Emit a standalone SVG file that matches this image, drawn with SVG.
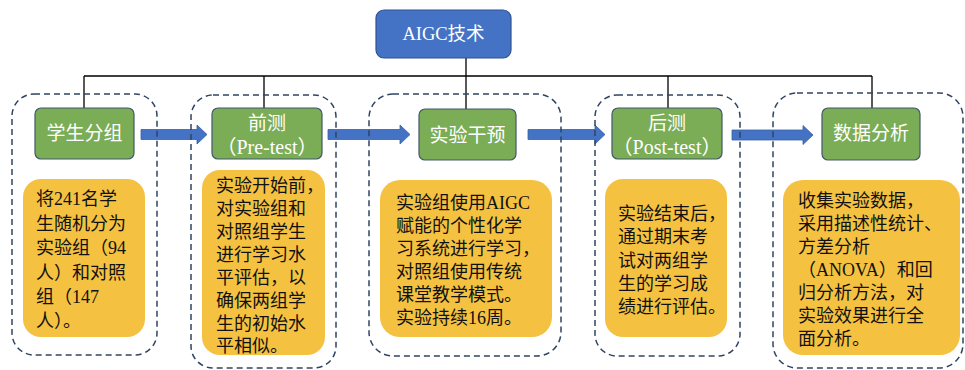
<svg xmlns="http://www.w3.org/2000/svg" width="965" height="370" viewBox="0 0 965 370">
<style>
.grp{fill:none;stroke:#2f4463;stroke-width:1.5;stroke-dasharray:6 4}
.green{fill:#7aad55;stroke:#43586b;stroke-width:1.2}
.orange{fill:#f5c141}
.gt{font-family:"Liberation Serif","Noto Sans CJK SC",serif;font-size:19px;fill:#ffffff;text-anchor:middle}
.lt{font-size:20px}
.bt{font-family:"Liberation Serif","Noto Sans CJK SC",serif;font-size:18px;fill:#111111}
.arrow{fill:#4472c4;stroke:#3a5f9f;stroke-width:0.8}
.line{stroke:#000;stroke-width:1.3;fill:none}
</style>
<rect width="965" height="370" fill="#ffffff"/>
<g id="connectors">
<path class="line" d="M84 76 H872 M84 76 V108 M264 76 V108 M466 58 V109 M668 76 V108 M872 76 V108"/>
<polygon class="arrow" points="141,129.5 197,129.5 197,125 207,134.5 197,144 197,139.5 141,139.5"/>
<polygon class="arrow" points="328,129.5 400,129.5 400,125 410,134.5 400,144 400,139.5 328,139.5"/>
<polygon class="arrow" points="528,129.5 595,129.5 595,125 605,134.5 595,144 595,139.5 528,139.5"/>
<polygon class="arrow" points="732,130 803,130 803,125.5 813,135 803,144.5 803,140 732,140"/>
</g>
<g id="aigc">
<rect x="376" y="10" width="135" height="48" rx="8" fill="#4472c4" stroke="#2f528f" stroke-width="1.2"/>
<text class="gt" x="443.5" y="40" style="font-size:18.5px">AIGC技术</text>
</g>
<g id="group1">
<rect class="grp" x="12" y="94" width="145" height="261" rx="22"/>
<rect class="green" x="35" y="108" width="99" height="51" rx="6"/>
<text class="gt" x="84.5" y="140">学生分组</text>
<rect class="orange" x="23" y="179" width="122" height="158" rx="18"/>
<text class="bt" x="36" y="205">将241名学</text>
<text class="bt" x="36" y="229.5">生随机分为</text>
<text class="bt" x="36" y="254">实验组（94</text>
<text class="bt" x="36" y="278.5">人）和对照</text>
<text class="bt" x="36" y="303">组（147</text>
<text class="bt" x="36" y="327">人）。</text>
</g>
<g id="group2">
<rect class="grp" x="191" y="95" width="145" height="273" rx="22"/>
<rect class="green" x="212" y="108" width="110" height="51" rx="6"/>
<text class="gt" x="267" y="130">前测</text>
<text class="gt lt" x="267" y="154">（Pre-test）</text>
<rect class="orange" x="202" y="170" width="123" height="185" rx="18"/>
<text class="bt" x="216" y="191.5">实验开始前，</text>
<text class="bt" x="216" y="214.5">对实验组和</text>
<text class="bt" x="216" y="237.5">对照组学生</text>
<text class="bt" x="216" y="260.5">进行学习水</text>
<text class="bt" x="216" y="283.5">平评估，以</text>
<text class="bt" x="216" y="306.5">确保两组学</text>
<text class="bt" x="216" y="329.5">生的初始水</text>
<text class="bt" x="216" y="352">平相似。</text>
</g>
<g id="group3">
<rect class="grp" x="369" y="94" width="192" height="262" rx="24"/>
<rect class="green" x="419" y="109" width="97" height="51" rx="6"/>
<text class="gt" x="467.5" y="141.5">实验干预</text>
<rect class="orange" x="380" y="180" width="172" height="157" rx="20"/>
<text class="bt" x="396" y="208.5">实验组使用AIGC</text>
<text class="bt" x="396" y="231.5">赋能的个性化学</text>
<text class="bt" x="396" y="254.5">习系统进行学习，</text>
<text class="bt" x="396" y="277.5">对照组使用传统</text>
<text class="bt" x="396" y="300.5">课堂教学模式。</text>
<text class="bt" x="396" y="323.5">实验持续16周。</text>
</g>
<g id="group4">
<rect class="grp" x="595" y="95" width="145" height="261" rx="22"/>
<rect class="green" x="612" y="108" width="110" height="51" rx="6"/>
<text class="gt" x="667" y="130">后测</text>
<text class="gt lt" x="667" y="154">（Post-test）</text>
<rect class="orange" x="605" y="179" width="122" height="158" rx="18"/>
<text class="bt" x="618" y="219.5">实验结束后，</text>
<text class="bt" x="618" y="243">通过期末考</text>
<text class="bt" x="618" y="266.5">试对两组学</text>
<text class="bt" x="618" y="289.5">生的学习成</text>
<text class="bt" x="618" y="312.5">绩进行评估。</text>
</g>
<g id="group5">
<rect class="grp" x="773" y="93" width="190" height="275" rx="24"/>
<rect class="green" x="822" y="108" width="98" height="52" rx="6"/>
<text class="gt" x="871" y="140">数据分析</text>
<rect class="orange" x="783" y="180" width="177" height="175" rx="20"/>
<text class="bt" x="798" y="206.5">收集实验数据，</text>
<text class="bt" x="798" y="229.5">采用描述性统计、</text>
<text class="bt" x="798" y="253">方差分析</text>
<text class="bt" x="798" y="276">（ANOVA）和回</text>
<text class="bt" x="798" y="299">归分析方法，对</text>
<text class="bt" x="798" y="322">实验效果进行全</text>
<text class="bt" x="798" y="345">面分析。</text>
</g>
</svg>
